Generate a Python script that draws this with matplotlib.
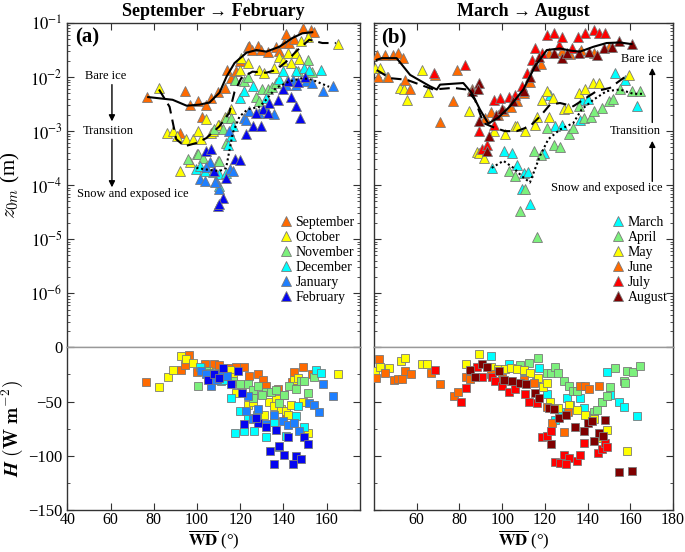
import numpy as np
import matplotlib
matplotlib.use("Agg")
import matplotlib.pyplot as plt
from matplotlib.ticker import LogLocator, NullFormatter, MultipleLocator

plt.rcParams['font.family'] = ['Liberation Serif', 'DejaVu Serif']
plt.rcParams['mathtext.fontset'] = 'stix'

# ---------------- DATA: top panels, log10(z0m) vs WD ----------------
# Left: September -> February
sep_x = [76.7, 94.3, 96.6, 100.4, 104.3, 106.6, 109.7, 112.8, 113.8, 115.8, 118.3, 119.7, 123.5, 124, 125.7, 128.1, 129.7, 132.8, 136.6, 137.8, 140.5, 141.2, 142.8, 145.1, 148.9, 152.9, 154.3, 102.4, 92.0]
sep_log = [-2.36, -2.25, -2.51, -2.45, -2.51, -2.39, -2.27, -2.20, -1.87, -2.02, -1.88, -1.70, -1.44, -1.42, -1.50, -1.42, -1.50, -1.53, -1.44, -1.52, -1.37, -1.20, -1.37, -1.30, -1.10, -1.13, -1.17, -2.73, -3.04]
oct_x = [82.3, 86.0, 88.9, 90.6, 95.1, 98.1, 102.0, 104.3, 106.7, 110.4, 107.3, 109.7, 112.8, 115.8, 117.8, 119.7, 120.6, 123.5, 128.9, 131.2, 135.8, 138.2, 139.7, 142.0, 143.6, 145.9, 147.4, 148.2, 151.2, 165.1, 96.6, 92.0, 100.4]
oct_log = [-2.20, -3.03, -3.00, -3.09, -3.15, -3.15, -3.15, -2.77, -3.03, -2.88, -3.00, -2.88, -2.73, -2.60, -2.05, -1.87, -1.65, -1.74, -1.87, -1.93, -1.83, -1.62, -1.71, -1.56, -1.74, -1.56, -1.67, -1.34, -1.25, -1.39, -3.58, -3.74, -3.00]
nov_x = [113.5, 115.8, 117.4, 122.0, 123.4, 127.4, 128.9, 130.2, 132.8, 134.6, 136.6, 141.9, 146.6, 151.2, 153.5, 95.8, 99.8, 100.4, 102.7, 108.1, 109.7, 110.4, 112.0, 113.5]
nov_log = [-2.75, -2.76, -2.05, -2.08, -1.99, -2.37, -2.45, -2.23, -2.22, -2.18, -2.11, -2.08, -1.88, -1.68, -1.90, -3.52, -3.43, -3.43, -3.49, -2.97, -3.56, -3.55, -2.97, -3.22]
dec_x = [115.8, 114.3, 119.7, 122.0, 125.8, 132.0, 138.2, 139.7, 145.9, 149.7, 152.0, 157.4, 99.7, 101.2, 103.5, 107.3, 110.4, 113.5, 110.0, 116.5]
dec_log = [-3.09, -3.25, -2.39, -2.25, -2.17, -2.39, -2.04, -1.88, -1.88, -1.83, -1.87, -1.87, -3.71, -3.65, -3.74, -3.76, -3.80, -3.77, -4.02, -2.91]
jan_x = [122.0, 122.8, 124.3, 128.9, 132.0, 135.8, 141.3, 144.3, 145.9, 150.5, 153.5, 158.2, 162.8, 115.1, 105.8, 101.2, 103.5, 108.9, 110.4, 116.6, 108.2, 104.4, 115.0]
jan_log = [-2.76, -2.79, -2.63, -2.66, -2.60, -2.69, -2.14, -2.05, -2.14, -2.08, -2.11, -2.26, -2.17, -3.71, -3.58, -3.89, -3.92, -3.92, -4.08, -3.74, -3.95, -3.67, -3.00]
feb_x = [142.0, 139.7, 143.6, 145.9, 147.9, 137.4, 133.5, 130.4, 127.4, 132.8, 125.8, 122.8, 129.7, 104.3, 106.6, 108.1, 117.4, 119.7, 113.5, 109.7, 112.0, 110.0, 147.0, 150.0]
feb_log = [-2.08, -2.23, -2.36, -2.53, -2.76, -2.42, -2.48, -2.60, -2.66, -2.66, -2.91, -3.06, -2.91, -3.37, -3.33, -3.74, -3.52, -3.54, -3.86, -4.38, -4.23, -4.35, -2.10, -2.00]

# Right: March -> August
mar_x = [100.7, 104.6, 106.9, 95.3, 110.0, 109.3, 113.2, 119.5, 124.9, 128.0, 136.6, 153.0, 157.7, 163.1, 122.6, 137.4, 140.0, 112.0]
mar_log = [-3.37, -3.40, -3.62, -3.68, -3.77, -4.08, -4.35, -3.40, -2.91, -2.88, -2.79, -1.93, -2.05, -2.54, -2.33, -2.42, -2.40, -3.75]
apr_x = [103.0, 106.2, 110.9, 108.5, 116.3, 114.8, 118.0, 124.2, 127.0, 121.0, 131.2, 133.0, 138.1, 141.5, 146.7, 150.0, 155.4, 160.8, 164.7, 135.8, 143.0, 152.0]
apr_log = [-3.74, -3.83, -4.08, -4.47, -4.96, -3.37, -3.45, -3.25, -3.30, -2.94, -3.06, -2.95, -2.76, -2.74, -2.57, -2.45, -2.23, -2.26, -2.26, -2.54, -2.62, -2.40]
may_x = [40.5, 42.8, 46.1, 52.2, 53.9, 55.3, 62.5, 65.4, 84.3, 88.1, 89.0, 91.4, 101.5, 106.2, 107.0, 110.9, 115.5, 116.2, 118.6, 121.8, 120.9, 124.0, 128.9, 131.0, 135.8, 139.0, 142.7, 145.2, 159.2, 96.0]
may_log = [-1.83, -1.83, -1.99, -2.20, -2.23, -2.42, -1.87, -2.27, -2.63, -3.39, -3.40, -3.49, -3.06, -2.91, -2.90, -3.00, -2.88, -2.73, -2.42, -2.73, -2.26, -2.39, -2.60, -2.58, -2.29, -2.23, -2.11, -2.11, -1.96, -3.00]
jun_x = [41.3, 45.1, 49.0, 51.3, 53.7, 42.0, 46.6, 54.5, 56.9, 68.6, 70.9, 77.0, 78.9, 85.9, 92.0, 95.0, 98.0, 101.0, 104.0, 107.0, 110.0, 113.0, 118.0, 122.0, 128.0, 132.0, 137.0, 143.0, 150.0]
jun_log = [-1.59, -1.59, -1.59, -1.55, -1.65, -1.99, -1.99, -2.05, -2.23, -1.96, -2.84, -2.45, -1.87, -2.23, -2.75, -2.65, -2.70, -2.62, -2.55, -2.45, -2.30, -2.10, -1.75, -1.55, -1.52, -1.58, -1.50, -1.55, -1.45]
jul_x = [68.0, 82.7, 90.6, 92.9, 89.0, 96.0, 96.0, 99.1, 103.1, 106.2, 109.3, 111.7, 114.0, 115.5, 118.7, 121.0, 124.1, 126.5, 128.0, 132.7, 138.9, 142.9, 145.2, 148.3, 135.5]
jul_log = [-1.93, -1.77, -3.34, -3.25, -3.00, -2.88, -2.42, -2.39, -2.36, -2.33, -2.17, -1.93, -1.68, -1.47, -1.56, -1.22, -1.19, -1.41, -1.25, -1.47, -1.19, -1.13, -1.19, -1.19, -1.25]
aug_x = [85.9, 89.0, 89.0, 92.9, 93.7, 97.0, 100.0, 105.0, 110.0, 113.0, 115.5, 117.1, 124.1, 128.0, 130.4, 135.8, 140.5, 144.4, 147.5, 151.4, 154.6, 160.8, 88.7]
aug_log = [-2.26, -2.82, -2.11, -3.37, -3.09, -2.70, -2.60, -2.45, -2.25, -2.00, -1.80, -1.62, -1.56, -1.65, -1.56, -1.56, -1.53, -1.59, -1.47, -1.44, -1.34, -1.39, -2.23]

# smoothed curves (log10 z0m)
left_solid_x = [77.4, 88.7, 95.2, 101.2, 105.8, 110.4, 113.7, 117.4, 122.9, 127.5, 132.1, 138.1, 144.1, 148.8, 153.4]
left_solid_log = [-2.37, -2.42, -2.53, -2.51, -2.47, -2.29, -1.99, -1.74, -1.55, -1.50, -1.53, -1.44, -1.28, -1.19, -1.17]
left_dash_x = [82.4, 87.3, 90.4, 94.3, 99.7, 104.3, 110.4, 115.0, 117.4, 120.5, 125.7, 132.0, 136.6, 141.2, 146.6, 152.0, 158.1, 164.3]
left_dash_log = [-2.23, -2.55, -3.15, -3.28, -3.22, -3.13, -2.91, -2.66, -2.27, -2.02, -1.90, -1.92, -1.87, -1.72, -1.50, -1.31, -1.37, -1.37]
left_dot_x = [99.7, 104.3, 110.4, 113.5, 115.1, 116.6, 119.7, 123.4, 128.9, 132.0, 136.6, 142.8, 148.8, 153.4, 161.2]
left_dot_log = [-3.68, -3.71, -3.74, -3.68, -3.34, -3.03, -2.73, -2.60, -2.55, -2.42, -2.20, -2.08, -2.02, -2.05, -2.18]
right_solid_x = [41.3, 43.6, 50.6, 56.9, 66.2, 69.4, 70.9, 81.8, 85.7, 89.6, 93.5, 98.2, 103.7, 109.9, 115.4, 120.9, 127.1, 131.8, 136.4, 142.7, 148.9, 155.2, 160.6]
right_solid_log = [-1.68, -1.65, -1.65, -1.96, -2.17, -2.23, -2.14, -2.11, -2.29, -2.60, -2.86, -2.75, -2.54, -2.23, -1.80, -1.50, -1.47, -1.51, -1.53, -1.44, -1.37, -1.36, -1.39]
right_dash_x = [41.3, 47.5, 55.3, 67.8, 77.1, 83.4, 87.3, 91.2, 96.6, 101.3, 106.8, 113.0, 117.7, 122.4, 127.1, 133.3, 138.0, 144.2, 150.5, 156.7, 159.9]
right_dash_log = [-1.87, -2.02, -2.05, -2.23, -2.20, -2.23, -2.42, -2.85, -2.94, -3.00, -3.00, -2.91, -2.73, -2.51, -2.48, -2.54, -2.42, -2.26, -2.20, -2.02, -1.96]
right_dot_x = [95.1, 100.6, 105.3, 109.1, 113.0, 117.7, 121.6, 127.1, 133.3, 137.2, 142.7, 148.9, 155.2, 161.4, 166.1]
right_dot_log = [-3.68, -3.55, -3.68, -3.83, -3.95, -3.46, -3.15, -2.97, -2.85, -2.60, -2.42, -2.26, -2.23, -2.31, -2.31]

# ---------------- DATA: bottom panels, H (W m-2) vs WD ----------------
sep_h_x = [76.6, 92.4, 94.3, 96.3, 103.5, 108.1, 110.4, 112.0, 115.8, 118.1, 121.9, 123.9, 128.1, 130.4, 131.9, 137.4, 140.5, 144.0, 145.1, 148.9, 153.5, 141.2, 100.0]
sep_h = [-32, -21, -16, -7, -15, -15, -16, -21, -19, -18, -18, -26, -25, -30, -36, -38, -44, -32, -23, -18, -25, -62, -23]
oct_h_x = [82.4, 86.6, 88.9, 92.8, 95.0, 98.1, 102.0, 105.0, 110.0, 115.1, 116.6, 118.1, 123.5, 125.8, 131.2, 133.5, 136.6, 135.8, 138.9, 141.2, 143.5, 145.1, 146.6, 148.9, 151.2, 165.1, 142.0, 112.0]
oct_h = [-37, -27, -21, -8, -11, -14, -19, -22, -24, -21, -27, -42, -53, -50, -62, -50, -48, -54, -57, -59, -53, -30, -28, -50, -79, -25, -62, -20]
nov_h_x = [100.4, 104.0, 108.0, 112.0, 116.6, 119.7, 123.5, 125.8, 128.1, 132.0, 134.3, 136.6, 138.2, 140.5, 142.8, 145.9, 148.2, 149.7, 151.2, 154.3, 125.8, 130.0]
nov_h = [-36, -22, -25, -27, -31, -34, -34, -39, -36, -41, -41, -39, -51, -44, -36, -38, -31, -31, -42, -27, -47, -44]
dec_h_x = [101.2, 106.0, 111.2, 115.8, 117.4, 119.7, 121.7, 123.5, 126.6, 132.0, 135.5, 137.8, 141.2, 145.9, 146.6, 149.7, 155.1, 157.4, 113.0, 128.0]
dec_h = [-18, -24, -31, -47, -79, -59, -77, -65, -77, -83, -69, -92, -82, -63, -54, -73, -21, -24, -30, -62]
jan_h_x = [102.0, 106.6, 111.2, 109.0, 114.0, 123.5, 122.8, 126.0, 128.1, 132.0, 135.8, 139.7, 142.0, 145.1, 147.4, 152.0, 154.3, 156.6, 158.2, 162.8, 104.0]
jan_h = [-22, -36, -25, -30, -26, -45, -59, -66, -57, -71, -62, -68, -72, -70, -77, -51, -53, -60, -34, -45, -25]
feb_h_x = [105.0, 108.0, 112.0, 115.8, 119.0, 122.0, 128.1, 127.4, 132.0, 136.6, 138.2, 135.8, 140.5, 142.0, 144.3, 145.9, 148.2, 149.7, 151.2, 133.8, 110.0, 121.0]
feb_h = [-30, -25, -19, -34, -22, -71, -70, -65, -73, -76, -91, -108, -99, -83, -108, -100, -103, -83, -89, -96, -28, -42]

mar_h_x = [94.9, 103.1, 110.0, 117.1, 116.0, 121.0, 124.6, 130.4, 136.6, 138.2, 146.7, 149.1, 150.7, 154.6, 156.9, 163.1, 128.0, 132.0]
mar_h = [-8, -15, -22, -19, -32, -43, -67, -47, -47, -56, -50, -23, -44, -50, -55, -63, -60, -53]
apr_h_x = [108.5, 112.4, 116.6, 121.0, 123.0, 124.9, 126.0, 128.8, 131.2, 133.0, 135.0, 142.9, 144.5, 146.7, 149.1, 150.7, 153.0, 156.9, 158.4, 161.1, 164.7, 140.0, 157.5]
apr_h = [-16, -14, -10, -24, -24, -18, -24, -31, -36, -40, -40, -60, -58, -50, -45, -37, -19, -31, -22, -23, -17, -65, -33]
may_h_x = [40.6, 43.0, 46.9, 52.6, 54.7, 62.5, 64.8, 83.1, 89.0, 95.0, 98.0, 101.5, 104.0, 107.0, 110.0, 113.0, 116.8, 119.0, 121.0, 122.6, 126.0, 131.2, 135.0, 139.0, 142.9, 145.2, 149.1, 158.4]
may_h = [-22, -18, -19, -12.5, -10, -15, -15, -15, -6.4, -18, -20, -20, -19, -20, -21, -24, -28, -37, -33, -50, -56, -53, -58, -62, -66, -84, -76, -96]
jun_h_x = [42.2, 40.9, 45.3, 49.2, 51.0, 53.1, 54.7, 57.5, 66.8, 71.0, 77.3, 79.3, 83.2, 84.8, 95.0, 100.0, 104.0, 110.0, 115.0, 121.0, 123.3, 128.8, 136.6, 139.0, 140.5, 145.2, 131.0]
jun_h = [-11, -28, -24, -30, -29, -29, -22, -25, -24, -34, -45, -41, -27, -29, -25, -28, -31, -30, -33, -55, -70, -78, -36, -36, -38, -36, -60]
jul_h_x = [68.4, 80.9, 83.1, 88.2, 90.6, 95.3, 96.8, 100.0, 103.1, 106.0, 110.9, 112.4, 116.3, 118.7, 121.0, 123.0, 124.9, 127.0, 128.8, 131.2, 135.0, 136.6, 138.2, 144.9, 146.7, 148.3, 149.1, 130.0]
jul_h = [-21, -50, -37.5, -18, -27, -27, -31, -36, -41, -38, -43, -50, -51, -83, -82, -77, -106, -107, -99, -102, -105, -99, -88, -97, -94, -88, -92, -108]
aug_h_x = [85.1, 87.4, 90.6, 93.0, 98.4, 100.7, 104.6, 108.5, 111.0, 115.5, 117.1, 121.8, 124.5, 126.5, 130.0, 134.3, 138.2, 140.0, 142.1, 145.2, 147.0, 148.3, 123.0, 142.9, 154.7, 160.9]
aug_h = [-21, -27, -15, -18, -22, -30, -31, -33, -34, -42, -47, -56, -57, -65, -62, -73, -77, -70, -68, -79, -82, -67, -89, -86, -115, -114]

# ---------------- STYLE ----------------
C = {'September': '#FF6A00', 'October': '#FFFF00', 'November': '#7CF07C',
     'December': '#00FFFF', 'January': '#1E7FFF', 'February': '#0505F0',
     'March': '#00FFFF', 'April': '#7CF07C', 'May': '#FFFF00',
     'June': '#FF6A00', 'July': '#FF0000', 'August': '#800000'}
EDGE = '#7a7a7a'

left_top = [('September', sep_x, sep_log), ('October', oct_x, oct_log), ('November', nov_x, nov_log),
            ('December', dec_x, dec_log), ('January', jan_x, jan_log), ('February', feb_x, feb_log)]
right_top = [('March', mar_x, mar_log), ('April', apr_x, apr_log), ('May', may_x, may_log),
             ('June', jun_x, jun_log), ('July', jul_x, jul_log), ('August', aug_x, aug_log)]
left_bot = [('September', sep_h_x, sep_h), ('October', oct_h_x, oct_h), ('November', nov_h_x, nov_h),
            ('December', dec_h_x, dec_h), ('January', jan_h_x, jan_h), ('February', feb_h_x, feb_h)]
right_bot = [('March', mar_h_x, mar_h), ('April', apr_h_x, apr_h), ('May', may_h_x, may_h),
             ('June', jun_h_x, jun_h), ('July', jul_h_x, jul_h), ('August', aug_h_x, aug_h)]

fig = plt.figure(figsize=(6.85, 5.52), dpi=100)
ax_tl = fig.add_axes([0.0985, 0.3708, 0.4270, 0.5875])
ax_bl = fig.add_axes([0.0985, 0.0760, 0.4270, 0.2948])
ax_tr = fig.add_axes([0.5460, 0.3708, 0.4365, 0.5875])
ax_br = fig.add_axes([0.5460, 0.0760, 0.4365, 0.2948])

SPINE = '#333333'
for ax in (ax_tl, ax_bl, ax_tr, ax_br):
    for s in ax.spines.values():
        s.set_color(SPINE)
        s.set_linewidth(1.0)
    ax.tick_params(which='both', direction='in', top=True, right=True, colors=SPINE,
                   labelcolor='black', labelsize=12)
    ax.tick_params(which='major', length=5)
    ax.tick_params(which='minor', length=2.5)

for ax in (ax_tl, ax_tr):
    ax.spines['bottom'].set_color('#999999')
for ax in (ax_bl, ax_br):
    ax.spines['top'].set_color('#999999')
    ax.tick_params(axis='x', labelsize=11.5, pad=1.5)

# top panels
for ax, groups in ((ax_tl, left_top), (ax_tr, right_top)):
    for name, xs, lg in groups:
        ax.plot(xs, 10 ** np.array(lg), linestyle='none', marker='^', ms=7.5,
                mfc=C[name], mec=EDGE, mew=0.6, label=name, zorder=3)
    ax.set_yscale('log')
    ax.set_ylim(1e-7, 1e-1)
    ax.set_yticks([1e-7, 1e-6, 1e-5, 1e-4, 1e-3, 1e-2, 1e-1])
    ax.yaxis.set_minor_locator(LogLocator(base=10, subs=np.arange(2, 10), numticks=20))
    ax.yaxis.set_minor_formatter(NullFormatter())
    ax.tick_params(axis='x', which='both', bottom=False, labelbottom=False)

ax_tl.set_yticklabels(['', '$10^{-6}$', '$10^{-5}$', '$10^{-4}$', '$10^{-3}$', '$10^{-2}$', '$10^{-1}$'])
ax_tr.set_yticklabels([])

ax_tl.plot(left_solid_x, 10 ** np.array(left_solid_log), color='k', lw=1.5, zorder=4)
ax_tl.plot(left_dash_x, 10 ** np.array(left_dash_log), color='k', lw=1.5, ls=(0, (5, 3)), zorder=4)
ax_tl.plot(left_dot_x, 10 ** np.array(left_dot_log), color='k', lw=1.5, ls=(0, (1, 1.3)), zorder=4)
ax_tr.plot(right_solid_x, 10 ** np.array(right_solid_log), color='k', lw=1.5, zorder=4)
ax_tr.plot(right_dash_x, 10 ** np.array(right_dash_log), color='k', lw=1.5, ls=(0, (5, 3)), zorder=4)
ax_tr.plot(right_dot_x, 10 ** np.array(right_dot_log), color='k', lw=1.5, ls=(0, (1, 1.3)), zorder=4)

# bottom panels
for ax, groups in ((ax_bl, left_bot), (ax_br, right_bot)):
    for name, xs, hs in groups:
        ax.plot(xs, hs, linestyle='none', marker='s', ms=5.5,
                mfc=C[name], mec=EDGE, mew=0.6, zorder=3)
    ax.set_ylim(-150, 0)
    ax.set_yticks([-150, -100, -50, 0])
    ax.yaxis.set_minor_locator(MultipleLocator(25))
    ax.tick_params(axis='x', which='both', top=False)
ax_br.set_yticklabels([])

ax_tl.set_xlim(40, 175.5)
ax_bl.set_xlim(40, 175.5)
ax_tr.set_xlim(40, 180)
ax_br.set_xlim(40, 180)
ax_tl.set_xticks([40, 60, 80, 100, 120, 140, 160])
ax_bl.set_xticks([40, 60, 80, 100, 120, 140, 160])
ax_tr.set_xticks([60, 80, 100, 120, 140, 160, 180])
ax_br.set_xticks([60, 80, 100, 120, 140, 160, 180])

# titles and labels
ax_tl.set_title('September \u2192 February', fontsize=13, fontweight='bold', pad=5)
ax_tr.set_title('March \u2192 August', fontsize=13, fontweight='bold', pad=5)
ax_tl.text(0.025, 0.985, '(a)', transform=ax_tl.transAxes, fontsize=15, fontweight='bold', va='top', ha='left')
ax_tr.text(0.025, 0.985, '(b)', transform=ax_tr.transAxes, fontsize=15, fontweight='bold', va='top', ha='left')

ax_tl.set_ylabel('$z_{0m}$ (m)', fontsize=15, math_fontfamily='cm', labelpad=6)
ax_bl.set_ylabel(r'$\boldsymbol{H}$ $\mathbf{(W\ m^{-2})}$', fontsize=14, math_fontfamily='cm', labelpad=2)
for ax in (ax_bl, ax_br):
    ax.set_xlabel(r'$\overline{\mathbf{WD}}$ (°)', fontsize=12)
    ax.xaxis.label.set_va('bottom')
    ax.xaxis.set_label_coords(0.5, -0.249)

# annotations
def arrow(ax, x, y0, y1):
    ax.annotate('', xy=(x, 10 ** y1), xytext=(x, 10 ** y0),
                arrowprops=dict(arrowstyle='-|>', color='k', lw=1.0, mutation_scale=9,
                                shrinkA=0, shrinkB=0))

ax_tl.text(57.8, 10 ** -1.98, 'Bare ice', fontsize=9, ha='center', va='center')
ax_tl.text(58.7, 10 ** -2.99, 'Transition', fontsize=9, ha='center', va='center')
ax_tl.text(70.3, 10 ** -4.17, 'Snow and exposed ice', fontsize=9, ha='center', va='center')
arrow(ax_tl, 60.6, -2.14, -2.82)
arrow(ax_tl, 60.6, -3.15, -4.04)

ax_tr.text(165.3, 10 ** -1.66, 'Bare ice', fontsize=9, ha='center', va='center')
ax_tr.text(162.2, 10 ** -2.99, 'Transition', fontsize=9, ha='center', va='center')
ax_tr.text(149.0, 10 ** -4.06, 'Snow and exposed ice', fontsize=9, ha='center', va='center')
arrow(ax_tr, 170.3, -2.84, -1.83)
arrow(ax_tr, 170.3, -3.93, -3.18)

for ax, anchor in ((ax_tl, (1.01, 0.43)), (ax_tr, (1.01, 0.43))):
    ax.legend(loc='upper right', bbox_to_anchor=anchor, frameon=False, fontsize=10,
              handletextpad=0.1, labelspacing=0.14, handlelength=1.2, borderaxespad=0.2)

fig.savefig('out.png', dpi=100)
